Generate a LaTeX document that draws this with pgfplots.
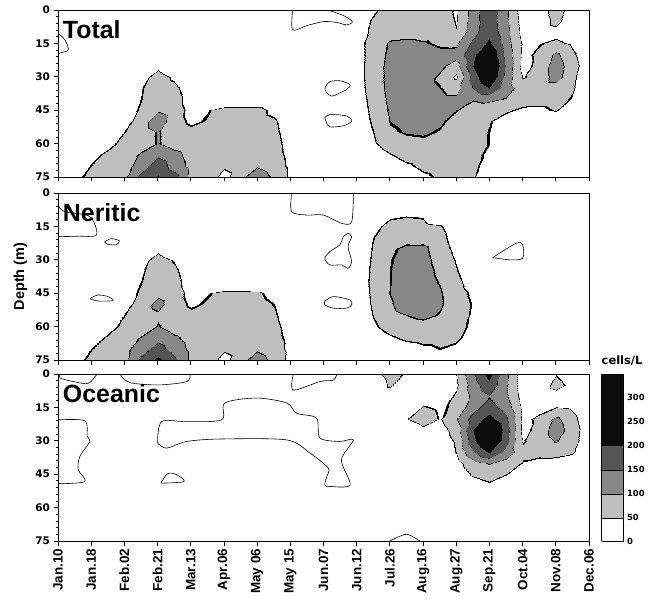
\documentclass[border=0pt]{standalone}
\usepackage{pgfplots}
\pgfplotsset{compat=1.18}
\usepackage{pgfplotstable}
\usepackage{fontspec}
\setmainfont{Liberation Sans}
\newfontfamily\djv{DejaVu Sans}
\definecolor{lvA}{RGB}{190,190,190}
\definecolor{lvB}{RGB}{135,135,135}
\definecolor{lvC}{RGB}{85,85,85}
\definecolor{lvD}{RGB}{12,12,12}

% cells/L on a grid: 33 columns (Jan.10 ... Dec.06 in half steps) x 16 depths (0,5,...,75 m)
\pgfplotstableread[row sep=\\,header=false]{
0\\0\\0\\0\\0\\0\\0\\0\\ 0\\0\\0\\0\\0\\0\\0\\0\\ 0\\0\\15\\40\\70\\70\\72\\75\\ 40\\120\\190\\110\\20\\20\\75\\20\\ 0\\
0\\0\\0\\0\\0\\0\\0\\0\\ 0\\0\\0\\0\\0\\0\\0\\0\\ 0\\0\\20\\55\\70\\72\\75\\78\\ 45\\125\\180\\110\\25\\15\\65\\15\\ 0\\
0\\0\\0\\0\\0\\0\\0\\0\\ 0\\0\\0\\0\\0\\0\\0\\0\\ 0\\0\\25\\60\\75\\80\\80\\85\\ 52\\130\\185\\115\\30\\20\\30\\10\\ 0\\
0\\0\\0\\0\\0\\0\\0\\0\\ 0\\0\\0\\0\\0\\0\\0\\0\\ 0\\0\\30\\70\\105\\110\\102\\92\\ 90\\160\\210\\120\\40\\45\\60\\40\\ 0\\
0\\0\\0\\0\\0\\0\\0\\0\\ 0\\0\\0\\0\\0\\0\\0\\0\\ 0\\0\\30\\70\\110\\120\\120\\110\\ 115\\190\\260\\130\\35\\60\\110\\60\\ 10\\
0\\0\\0\\0\\0\\0\\35\\0\\ 0\\0\\0\\0\\0\\0\\0\\0\\ 0\\0\\30\\72\\115\\125\\125\\110\\ 75\\200\\290\\140\\30\\65\\125\\70\\ 15\\
0\\0\\0\\0\\0\\30\\70\\40\\ 0\\0\\0\\0\\0\\0\\0\\0\\ 0\\0\\30\\72\\115\\125\\120\\90\\ 40\\170\\260\\130\\45\\70\\120\\60\\ 10\\
0\\0\\0\\0\\0\\45\\75\\60\\ 20\\0\\0\\0\\0\\0\\0\\0\\ 0\\0\\28\\70\\115\\120\\115\\100\\ 80\\150\\200\\120\\75\\72\\75\\55\\ 5\\
0\\0\\0\\0\\20\\48\\80\\70\\ 25\\0\\0\\0\\0\\0\\0\\0\\ 0\\0\\25\\65\\110\\115\\112\\110\\ 108\\102\\110\\95\\70\\65\\65\\45\\ 0\\
0\\0\\0\\0\\25\\55\\92\\70\\ 35\\45\\65\\65\\65\\35\\0\\0\\ 0\\0\\22\\60\\105\\110\\110\\105\\ 100\\78\\65\\55\\40\\40\\52\\20\\ 0\\
0\\0\\0\\0\\30\\70\\135\\65\\ 40\\52\\70\\70\\68\\55\\20\\0\\ 0\\0\\20\\55\\100\\108\\110\\105\\ 85\\68\\52\\30\\20\\0\\0\\0\\ 0\\
0\\0\\0\\20\\48\\75\\102\\75\\ 60\\65\\72\\72\\70\\60\\25\\0\\ 0\\0\\15\\48\\92\\102\\104\\95\\ 78\\62\\48\\15\\0\\0\\0\\0\\ 0\\
0\\0\\0\\35\\65\\80\\102\\80\\ 70\\70\\72\\72\\70\\65\\30\\0\\ 0\\0\\10\\40\\70\\85\\90\\85\\ 75\\62\\48\\10\\0\\0\\0\\0\\ 0\\
0\\0\\35\\60\\75\\105\\140\\115\\ 80\\72\\72\\75\\75\\68\\35\\0\\ 0\\0\\0\\20\\45\\65\\72\\75\\ 70\\60\\40\\0\\0\\0\\0\\0\\ 0\\
0\\25\\50\\70\\80\\120\\180\\125\\ 85\\70\\55\\75\\95\\75\\38\\0\\ 0\\0\\0\\0\\20\\40\\58\\65\\ 65\\58\\30\\0\\0\\0\\0\\0\\ 0\\
0\\38\\60\\75\\90\\165\\205\\170\\ 80\\75\\30\\90\\125\\90\\40\\0\\ 0\\0\\0\\0\\0\\20\\40\\55\\ 60\\53\\20\\0\\0\\0\\0\\0\\ 0\\
}\dataTotal

\pgfplotstableread[row sep=\\,header=false]{
0\\0\\0\\0\\0\\0\\0\\0\\ 0\\0\\0\\0\\0\\0\\0\\0\\ 0\\0\\0\\0\\0\\0\\0\\0\\ 0\\0\\0\\0\\0\\0\\0\\0\\ 0\\
0\\0\\0\\0\\0\\0\\0\\0\\ 0\\0\\0\\0\\0\\0\\0\\0\\ 0\\0\\0\\0\\0\\0\\0\\0\\ 0\\0\\0\\0\\0\\0\\0\\0\\ 0\\
0\\0\\0\\0\\0\\0\\0\\0\\ 0\\0\\0\\0\\0\\0\\0\\0\\ 0\\0\\0\\0\\40\\45\\42\\0\\ 0\\0\\0\\0\\0\\0\\0\\0\\ 0\\
0\\0\\0\\0\\0\\0\\0\\0\\ 0\\0\\0\\0\\0\\0\\0\\0\\ 0\\0\\0\\35\\62\\68\\62\\52\\ 20\\0\\0\\0\\0\\0\\0\\0\\ 0\\
0\\0\\0\\0\\0\\0\\0\\0\\ 0\\0\\0\\0\\0\\0\\0\\0\\ 0\\0\\10\\48\\75\\85\\82\\65\\ 25\\0\\0\\0\\0\\0\\0\\0\\ 0\\
0\\0\\0\\0\\0\\0\\35\\0\\ 0\\0\\0\\0\\0\\0\\0\\0\\ 0\\0\\15\\52\\92\\108\\110\\72\\ 35\\0\\0\\0\\0\\0\\0\\0\\ 0\\
0\\0\\0\\0\\0\\30\\70\\45\\ 10\\0\\0\\0\\0\\0\\0\\0\\ 0\\0\\18\\55\\96\\115\\115\\80\\ 45\\10\\0\\0\\0\\0\\0\\0\\ 0\\
0\\0\\0\\0\\5\\42\\75\\58\\ 20\\0\\0\\0\\0\\0\\0\\0\\ 0\\0\\20\\58\\98\\118\\118\\88\\ 52\\15\\0\\0\\0\\0\\0\\0\\ 0\\
0\\0\\0\\0\\20\\48\\80\\65\\ 25\\0\\0\\0\\0\\0\\0\\0\\ 0\\0\\20\\60\\98\\120\\120\\95\\ 62\\25\\0\\0\\0\\0\\0\\0\\ 0\\
0\\0\\0\\0\\30\\55\\85\\68\\ 35\\45\\60\\60\\55\\35\\5\\0\\ 0\\0\\18\\58\\100\\125\\130\\103\\ 68\\40\\0\\0\\0\\0\\0\\0\\ 0\\
0\\0\\0\\0\\30\\70\\115\\68\\ 42\\53\\65\\65\\62\\48\\15\\0\\ 0\\0\\15\\55\\92\\130\\135\\105\\ 70\\45\\5\\0\\0\\0\\0\\0\\ 0\\
0\\0\\0\\20\\48\\72\\90\\72\\ 58\\62\\68\\68\\66\\55\\20\\0\\ 0\\0\\10\\50\\80\\98\\110\\95\\ 70\\42\\0\\0\\0\\0\\0\\0\\ 0\\
0\\0\\5\\35\\60\\75\\102\\78\\ 65\\65\\68\\68\\68\\62\\30\\0\\ 0\\0\\5\\40\\65\\75\\80\\75\\ 62\\40\\0\\0\\0\\0\\0\\0\\ 0\\
0\\0\\30\\55\\78\\102\\135\\108\\ 80\\68\\68\\70\\72\\65\\35\\0\\ 0\\0\\0\\20\\42\\55\\60\\60\\ 55\\30\\0\\0\\0\\0\\0\\0\\ 0\\
0\\22\\48\\68\\85\\125\\170\\128\\ 85\\70\\55\\72\\92\\72\\35\\0\\ 0\\0\\0\\0\\20\\30\\40\\48\\ 40\\15\\0\\0\\0\\0\\0\\0\\ 0\\
0\\35\\58\\72\\88\\160\\215\\160\\ 85\\72\\30\\85\\120\\85\\30\\0\\ 0\\0\\0\\0\\0\\0\\0\\0\\ 0\\0\\0\\0\\0\\0\\0\\0\\ 0\\
}\dataNeritic

\pgfplotstableread[row sep=\\,header=false]{
0\\0\\0\\0\\0\\0\\0\\0\\ 0\\0\\0\\0\\0\\0\\0\\0\\ 0\\0\\0\\30\\70\\40\\0\\10\\ 48\\140\\220\\110\\20\\5\\45\\10\\ 0\\
0\\0\\0\\0\\0\\0\\0\\0\\ 0\\0\\0\\0\\0\\0\\0\\0\\ 0\\0\\0\\0\\58\\0\\0\\0\\ 40\\125\\185\\105\\20\\10\\70\\30\\ 0\\
0\\0\\0\\0\\0\\0\\0\\0\\ 0\\0\\0\\0\\0\\0\\0\\0\\ 0\\0\\0\\0\\0\\0\\0\\20\\ 55\\110\\145\\105\\25\\0\\20\\0\\ 0\\
0\\0\\0\\0\\0\\0\\0\\0\\ 0\\0\\0\\0\\0\\0\\0\\0\\ 0\\0\\0\\0\\0\\0\\52\\40\\ 60\\130\\170\\125\\35\\30\\48\\40\\ 5\\
0\\0\\0\\0\\0\\0\\0\\0\\ 0\\0\\0\\0\\0\\0\\0\\0\\ 0\\0\\0\\0\\0\\45\\75\\45\\ 95\\170\\220\\160\\35\\60\\110\\65\\ 10\\
0\\0\\0\\0\\0\\0\\0\\0\\ 0\\0\\0\\0\\0\\0\\0\\0\\ 0\\0\\0\\0\\0\\0\\35\\25\\ 70\\200\\290\\175\\30\\70\\125\\75\\ 15\\
0\\0\\0\\0\\0\\0\\0\\0\\ 0\\0\\0\\0\\0\\0\\0\\0\\ 0\\0\\0\\0\\0\\0\\0\\20\\ 55\\185\\280\\165\\45\\70\\102\\70\\ 12\\
0\\0\\0\\0\\0\\0\\0\\0\\ 0\\0\\0\\0\\0\\0\\0\\0\\ 0\\0\\0\\0\\0\\0\\0\\10\\ 50\\140\\205\\130\\62\\62\\65\\55\\ 5\\
0\\0\\0\\0\\0\\0\\0\\0\\ 0\\0\\0\\0\\0\\0\\0\\0\\ 0\\0\\0\\0\\0\\0\\0\\0\\ 30\\80\\102\\80\\45\\35\\30\\20\\ 0\\
0\\0\\0\\0\\0\\0\\0\\0\\ 0\\0\\0\\0\\0\\0\\0\\0\\ 0\\0\\0\\0\\0\\0\\0\\0\\ 15\\55\\70\\50\\15\\0\\0\\0\\ 0\\
0\\0\\0\\0\\0\\0\\0\\0\\ 0\\0\\0\\0\\0\\0\\0\\0\\ 0\\0\\0\\0\\0\\0\\0\\0\\ 0\\25\\40\\20\\0\\0\\0\\0\\ 0\\
0\\0\\0\\0\\0\\0\\0\\0\\ 0\\0\\0\\0\\0\\0\\0\\0\\ 0\\0\\0\\0\\0\\0\\0\\0\\ 0\\0\\0\\0\\0\\0\\0\\0\\ 0\\
0\\0\\0\\0\\0\\0\\0\\0\\ 0\\0\\0\\0\\0\\0\\0\\0\\ 0\\0\\0\\0\\0\\0\\0\\0\\ 0\\0\\0\\0\\0\\0\\0\\0\\ 0\\
0\\0\\0\\0\\0\\0\\0\\0\\ 0\\0\\0\\0\\0\\0\\0\\0\\ 0\\0\\0\\0\\0\\0\\0\\0\\ 0\\0\\0\\0\\0\\0\\0\\0\\ 0\\
0\\0\\0\\0\\0\\0\\0\\0\\ 0\\0\\0\\0\\0\\0\\0\\0\\ 0\\0\\0\\0\\0\\0\\0\\0\\ 0\\0\\0\\0\\0\\0\\0\\0\\ 0\\
0\\0\\0\\0\\0\\0\\0\\0\\ 0\\0\\0\\0\\0\\0\\0\\0\\ 0\\0\\0\\0\\0\\0\\0\\0\\ 0\\0\\0\\0\\0\\0\\0\\0\\ 0\\
}\dataOceanic

\pgfplotsset{
  panel/.style={
    scale only axis, width=531bp, height=167bp,
    xmin=0, xmax=16, ymin=0, ymax=75, y dir=reverse,
    axis on top,
    axis line style={line width=0.9bp},
    every tick/.style={black, line width=0.8bp},
    major tick length=4.5bp, minor tick length=2.5bp,
    tick align=outside,
    xtick={0,1,...,16}, xticklabels={},
    ytick={0,15,30,45,60,75}, minor y tick num=4,
    xtick pos=left, ytick pos=left,
    yticklabel style={font=\djv\bfseries\fontsize{10.5}{11}\selectfont},
    /pgf/number format/assume math mode=true,
    colormap={phyto}{color(0)=(white) color(47)=(black) color(50)=(lvA) color(97)=(black) color(100)=(lvB) color(147)=(black) color(150)=(lvC) color(200)=(lvD) color(350)=(lvD)},
    colormap access=piecewise constant,
    point meta min=0, point meta max=350,
  },
  field/.style={surf, shader=interp, mesh/cols=33, point meta=explicit},
  iso/.style={black, line width=0.6bp, smooth, tension=0.5, no markers},
}
\tikzset{ptitle/.style={anchor=north west, inner sep=0pt, font=\bfseries\fontsize{25}{25}\selectfont}}

\begin{document}
\begin{tikzpicture}
\useasboundingbox (-58bp,10bp) rectangle (609bp,-592bp);
% Total
\begin{axis}[panel, at={(0bp,0bp)}, anchor=north west]
\addplot[field] table[x index=0, y index=0, meta index=0, x expr={mod(\coordindex,33)/2}, y expr={floor((\coordindex+0.5)/33)*5}] {\dataTotal};
\addplot[iso] coordinates {(0,10.4) (0.21,13.4) (0.31,17.9) (0.06,19.3) (0,20)};
\addplot[iso] coordinates {(7.07,0) (7.07,8.9) (7.5,7) (8.0,5.2) (8.4,5.6) (8.7,6.7) (8.87,5.2) (8.6,2.5) (8.19,0.3) (8.1,0)};
\addplot[iso] coordinates {(8.04,35) (8.19,32.2) (8.5,31.8) (8.8,33.5) (8.7,35.7) (8.45,37.5) (8.25,38.7) (8.09,37.2) (8.04,35)};
\addplot[iso] coordinates {(8.04,48.4) (8.19,46.9) (8.7,47.6) (8.85,49.9) (8.6,52) (8.19,52.5) (8.09,50.6) (8.04,48.4)};
\node[ptitle] at (axis description cs:0.009,0.94) {Total};
\end{axis}
% Neritic
\begin{axis}[panel, at={(0bp,-183bp)}, anchor=north west,
  ylabel={Depth (m)},
  ylabel style={at={(axis description cs:-0.058,0.5)}, anchor=south, inner sep=0pt, font=\bfseries\fontsize{14.5}{15}\selectfont}]
\addplot[field] table[x index=0, y index=0, meta index=0, x expr={mod(\coordindex,33)/2}, y expr={floor((\coordindex+0.5)/33)*5}] {\dataNeritic};
\addplot[iso] coordinates {(0,5.4) (0.2,8.4) (0.96,10.6) (1.16,18.8) (0.6,19.4) (0,19.6)};
\addplot[iso] coordinates {(1.4,22) (1.6,20.5) (1.85,21.5) (1.75,23.3) (1.5,23) (1.4,22)};
\addplot[iso] coordinates {(0.96,47.5) (1.2,45.8) (1.5,46.5) (1.66,48.3) (1.2,48.5) (0.96,47.5)};
\addplot[iso] coordinates {(7.04,0) (7.04,8.4) (7.49,9.9) (7.99,9.9) (8.55,13.6) (8.85,12.9) (8.9,0)};
\addplot[iso] coordinates {(8.74,18.1) (8.85,19.6) (8.74,24.1) (8.85,30.8) (8.74,33.8) (8.55,32.3) (8.19,32.3) (8.04,29.3) (8.19,26.3) (8.49,23.3) (8.6,19.6) (8.74,18.1)};
\addplot[iso] coordinates {(8.04,48.7) (8.29,46.5) (8.79,48) (8.85,50.2) (8.7,51.7) (8.29,51.7) (8.04,50.2) (8.04,48.7)};
\addplot[iso] coordinates {(13.1,29) (13.8,22.6) (14.0,23.3) (14.0,29.3) (13.6,30) (13.1,29)};
\node[ptitle] at (axis description cs:0.009,0.94) {Neritic};
\end{axis}
% Oceanic
\begin{axis}[panel, at={(0bp,-364bp)}, anchor=north west,
  xticklabels={Jan.10,Jan.18,Feb.02,Feb.21,Mar.13,Apr.06,May 06,May 15,Jun.07,Jun.12,Jul.26,Aug.16,Aug.27,Sep.21,Oct.04,Nov.08,Dec.06},
  xticklabel style={rotate=90, anchor=east, font=\bfseries\fontsize{13.5}{14}\selectfont},
  colorbar,
  colorbar style={
    at={(parent axis.north east)}, anchor=north west, xshift=4bp,
    width=22bp,
    ytick={0,50,...,300},
    major tick length=0pt, minor tick length=0pt,
    axis line style={line width=0.8bp},
    yticklabel style={font=\djv\bfseries\fontsize{8.5}{9}\selectfont, xshift=0bp},
    /pgf/number format/assume math mode=true,
    title={cells/L},
    title style={at={(0,1)}, anchor=south west, inner sep=0pt, yshift=2bp, font=\djv\bfseries\fontsize{11.5}{12}\selectfont},
  }]
\addplot[field] table[x index=0, y index=0, meta index=0, x expr={mod(\coordindex,33)/2}, y expr={floor((\coordindex+0.5)/33)*5}] {\dataOceanic};
\addplot[iso] coordinates {(0,20.6) (0.81,21) (0.88,28) (0.96,30.3) (0.66,37) (0.61,43) (0.81,48.3) (0,49.3)};
\addplot[iso] coordinates {(3.0,31) (3.12,21.4) (3.88,21.4) (4.93,20.6) (5.03,13) (5.98,10.8) (6.89,13) (7.19,17.6) (7.79,19.8) (7.89,28.7) (8.49,30.3) (8.9,29.6) (8.54,38.6) (8.8,49.8) (8.19,50.5) (8.04,49.8) (8.1,46) (8.14,42.2) (7.59,35.5) (6.89,29.6) (4.88,29.2) (3.88,30.3) (3.27,33.3) (3.0,31)};
\addplot[iso] coordinates {(3.1,49) (3.3,44.8) (3.55,45) (3.8,48.3) (3.1,49)};
\addplot[iso] coordinates {(0.06,0) (0.06,1.8) (0.5,3.5) (0.91,4.2) (1.16,0.4) (1.2,0)};
\addplot[iso] coordinates {(1.87,0) (2.0,2.5) (2.27,4.2) (3.07,4.9) (3.88,3.4) (3.98,0)};
\addplot[iso] coordinates {(7.09,0) (7.09,7.2) (7.89,3.4) (8.3,2.7) (8.4,0)};
\addplot[iso] coordinates {(10,75) (10.5,72) (10.9,75)};
\node[ptitle] at (axis description cs:0.009,0.94) {Oceanic};
\end{axis}
\end{tikzpicture}
\end{document}
